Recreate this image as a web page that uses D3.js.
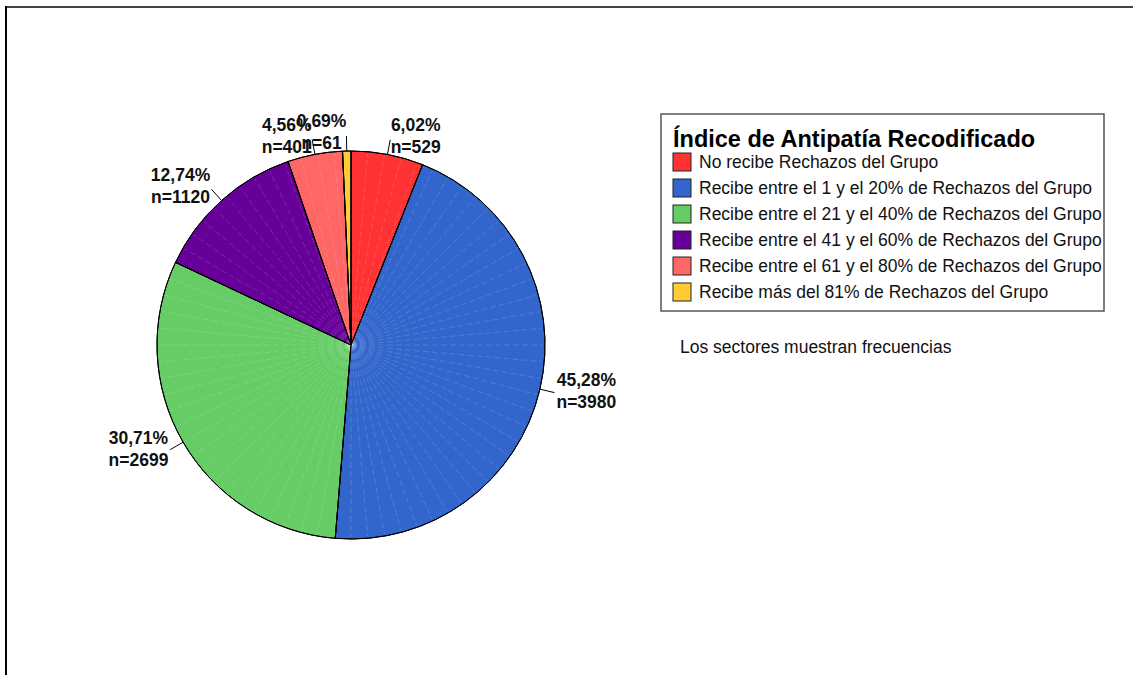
<!DOCTYPE html>
<html>
<head>
<meta charset="utf-8">
<script src="https://cdn.jsdelivr.net/npm/d3@7"></script>
<style>
  body { margin: 0; background: #fff; }
  text { font-family: Arial, "Liberation Sans", sans-serif; }
</style>
</head>
<body>
<svg id="chart" width="1133" height="675"></svg>
<script>
// Data
const categories = [
  "No recibe Rechazos del Grupo",
  "Recibe entre el 1 y el 20% de Rechazos del Grupo",
  "Recibe entre el 21 y el 40% de Rechazos del Grupo",
  "Recibe entre el 41 y el 60% de Rechazos del Grupo",
  "Recibe entre el 61 y el 80% de Rechazos del Grupo",
  "Recibe más del 81% de Rechazos del Grupo"
];
const counts = [529, 3980, 2699, 1120, 401, 61];
const colors = ["#ff3333", "#3366cc", "#66cc66", "#660099", "#ff6666", "#ffcc33"];
const legendTitle = "Índice de Antipatía Recodificado";
const footnote = "Los sectores muestran frecuencias";

const svg = d3.select("#chart");
const width = 1133, height = 675;

// Outer frame (top + left only)
svg.append("line")
  .attr("x1", 5).attr("x2", width).attr("y1", 7).attr("y2", 7)
  .style("stroke", "#444").style("stroke-width", 2);
svg.append("line")
  .attr("x1", 6).attr("x2", 6).attr("y1", 6).attr("y2", height)
  .style("stroke", "#000").style("stroke-width", 2);

// Pie
const cx = 351, cy = 345, radius = 194;
const total = d3.sum(counts);
const data = counts.map((c, i) => ({ name: categories[i], value: c, color: colors[i] }));

const pie = d3.pie().value(d => d.value).sort(null);
const arcs = pie(data);
const arc = d3.arc().innerRadius(0).outerRadius(radius);

const g = svg.append("g").attr("transform", `translate(${cx},${cy})`);

g.selectAll(".slice")
  .data(arcs)
  .enter()
  .append("path")
  .attr("class", "slice")
  .attr("d", arc)
  .style("fill", d => d.data.color)
  .style("stroke", "#000")
  .style("stroke-width", 1);

// faint radial shading lines inside the pie
const shade = d3.range(0, 360, 5);
g.selectAll(".shade")
  .data(shade)
  .enter()
  .append("line")
  .attr("class", "shade")
  .attr("x1", 0).attr("y1", 0)
  .attr("x2", a => (radius - 2) * Math.sin(a * Math.PI / 180))
  .attr("y2", a => -(radius - 2) * Math.cos(a * Math.PI / 180))
  .style("stroke", "#fff")
  .style("stroke-opacity", 0.18)
  .style("stroke-width", 0.8)
  .style("stroke-dasharray", "6 3");

// redraw slice borders on top
g.selectAll(".edge")
  .data(arcs)
  .enter()
  .append("path")
  .attr("d", arc)
  .style("fill", "none")
  .style("stroke", "#000")
  .style("stroke-width", 1);

// Labels
const locale = d3.formatLocale({ decimal: ",", thousands: ".", grouping: [3], currency: ["", "€"] });
const fmt = locale.format(".2f");
const labelR = radius + 17;
const mid = d => (d.startAngle + d.endAngle) / 2;

// leader lines
g.selectAll(".leader")
  .data(arcs)
  .enter()
  .append("line")
  .attr("x1", d => radius * Math.sin(mid(d)))
  .attr("y1", d => -radius * Math.cos(mid(d)))
  .attr("x2", d => (radius + 15) * Math.sin(mid(d)))
  .attr("y2", d => -(radius + 15) * Math.cos(mid(d)))
  .style("stroke", "#000")
  .style("stroke-width", 1);

const labels = g.selectAll(".label")
  .data(arcs)
  .enter()
  .append("text")
  .attr("class", "label")
  .style("font-size", "17.5px")
  .style("font-weight", "bold")
  .style("fill", "#111")
  .attr("text-anchor", "middle");

labels.each(function (d) {
  const t = d3.select(this);
  const a = mid(d);
  const lx = labelR * Math.sin(a);
  const ly = -labelR * Math.cos(a);
  const l1 = t.append("tspan").text(fmt(d.data.value / total * 100) + "%");
  const l2 = t.append("tspan").text("n=" + d.data.value);
  const w = Math.max(l1.node().getComputedTextLength(), l2.node().getComputedTextLength());
  const right = Math.sin(a) >= 0;
  const x = right ? lx + w / 2 : lx - w / 2;
  l1.attr("x", x).attr("y", ly - 7);
  l2.attr("x", x).attr("y", ly + 15);
});

// Legend
const legend = svg.append("g").attr("transform", "translate(661,114)");
legend.append("rect")
  .attr("width", 443).attr("height", 197)
  .style("fill", "#fff")
  .style("stroke", "#555")
  .style("stroke-width", 1.5);

legend.append("text")
  .attr("x", 12).attr("y", 33)
  .style("font-size", "23.5px")
  .style("font-weight", "bold")
  .text(legendTitle);

const item = legend.selectAll(".item")
  .data(data)
  .enter()
  .append("g")
  .attr("class", "item")
  .attr("transform", (d, i) => `translate(12,${39 + i * 26})`);

item.append("rect")
  .attr("width", 18).attr("height", 18)
  .style("fill", d => d.color)
  .style("stroke", "#222")
  .style("stroke-width", 1);

item.append("text")
  .attr("x", 26).attr("y", 15)
  .style("font-size", "17.5px")
  .style("fill", "#111")
  .text(d => d.name);

// clip legend text at box edge
legend.append("rect")
  .attr("x", 444).attr("y", 0).attr("width", 40).attr("height", 197)
  .style("fill", "#fff");

svg.append("text")
  .attr("x", 680).attr("y", 353)
  .style("font-size", "17.5px")
  .style("fill", "#111")
  .text(footnote);
</script>
</body>
</html>
